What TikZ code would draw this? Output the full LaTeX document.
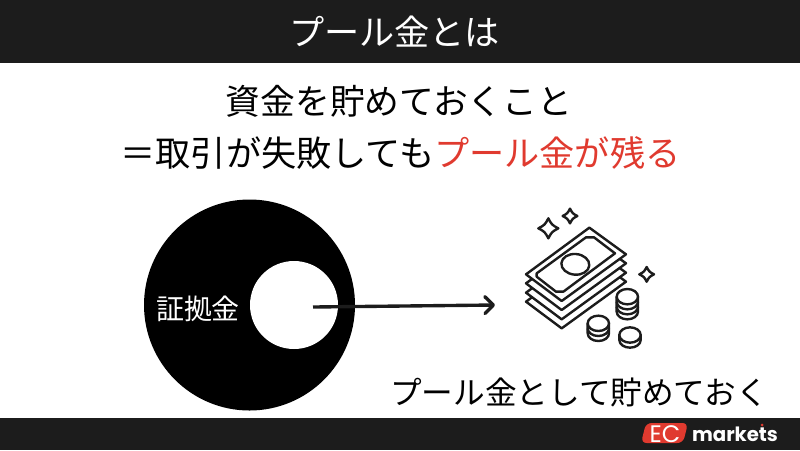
\documentclass[tikz,border=0pt]{standalone}
\usepackage{fontspec}
\setmainfont{Noto Sans CJK JP}
\newfontfamily\latinfont{Poppins}
\usetikzlibrary{arrows.meta}
\definecolor{band}{HTML}{1C1C1C}
\definecolor{poolred}{HTML}{E03A2F}
\tikzset{
  midtext/.style={black, font=\fontsize{25pt}{30pt}\selectfont, inner sep=0},
  icon/.style={line width=1.7pt, draw=band, fill=white, line join=round},
}
\begin{document}
\begin{tikzpicture}[x=0.025cm, y=-0.025cm]
\useasboundingbox (0, 0) rectangle (800, 450);
\fill[band] (0, 0) rectangle (800, 63);
\fill[band] (0, 418) rectangle (800, 450);

\node[midtext, white] (title) at (394.5, 32) {プール金とは};
\node[midtext, font=\fontsize{24.7pt}{30pt}\selectfont] (line1) at (399, 101) {資金を貯めておくこと};
\node[midtext] (line2) at (400.5, 153) {＝取引が失敗しても\textcolor{poolred}{プール金が残る}};

\fill[black] (249.5, 305) circle (105.5);
\fill[white] (294, 305) circle (44);
\node[white, font=\fontsize{19.9pt}{24pt}\selectfont, inner sep=0] (margin) at (198, 309) {証拠金};
\node[font=\fontsize{22.5pt}{26pt}\selectfont, inner sep=0] (pool) at (579, 392) {プール金として貯めておく};

\coordinate (start) at (313, 307);
\coordinate (end) at (495, 305);
\draw[-{Straight Barb[length=6pt, width=12pt, round]}, band, line width=2.4pt] (start) -- (end);

% money
\begin{scope}[shift={(500, 195)}, x=0.00833cm, y=-0.00833cm]
\foreach \d in {82, 55, 27, 0} {
  \draw[icon] (78, 238+\d) -- (268, 98+\d) -- (378, 178+\d) -- (185, 318+\d) -- cycle;
}
\draw[icon] (110, 235) -- (258, 127) -- (282, 127) -- (345, 175) -- (190, 290) -- (168, 290) -- (110, 245) -- cycle;
\draw[icon, rotate around={-5:(226, 208)}] (226, 208) ellipse [x radius=42, y radius=31];

\foreach \x/\y/\h in {382/305/45, 295/385/30, 390/420/15} {
  \draw[icon] (\x-32, \y) -- (\x-32, \y+\h) arc (180:0:32 and 23) -- (\x+32, \y) -- cycle;
  \draw[icon] (\x, \y) ellipse [x radius=32, y radius=23];
}
\draw[icon, fill=none] (350, 320) arc (180:0:32 and 23);
\draw[icon, fill=none] (350, 335) arc (180:0:32 and 23);
\draw[icon, fill=none] (263, 400) arc (180:0:32 and 23);

\foreach \x/\y/\r in {145/100/30, 210/63/22, 440/238/22} {
  \draw[icon] (\x, \y-\r) .. controls (\x+0.35*\r, \y-0.35*\r) .. (\x+\r, \y)
    .. controls (\x+0.35*\r, \y+0.35*\r) .. (\x, \y+\r)
    .. controls (\x-0.35*\r, \y+0.35*\r) .. (\x-\r, \y)
    .. controls (\x-0.35*\r, \y-0.35*\r) .. (\x, \y-\r) -- cycle;
}
\end{scope}

% logo
\fill[poolred, rounded corners=4] (646, 423) -- (688, 423) -- (683, 443) -- (641, 443) -- cycle;
\node[white, font=\latinfont\fontsize{17pt}{18pt}\selectfont, inner sep=0] (ec) at (665, 434) {EC};
\node[white, font=\latinfont\bfseries\fontsize{14pt}{18pt}\selectfont, inner sep=0] (markets) at (735, 434) {markets};
\fill[poolred] (762, 425) circle (1.5);
\end{tikzpicture}
\end{document}
